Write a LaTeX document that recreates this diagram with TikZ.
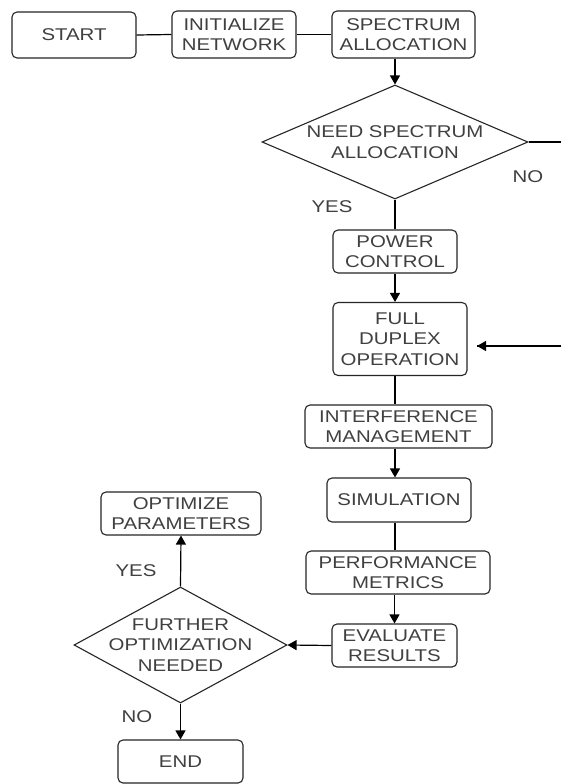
\documentclass[tikz,border=0pt]{standalone}
\usepackage{fontspec}
\setmainfont{Liberation Sans}[FakeStretch=1.2]
\usetikzlibrary{shapes.geometric,arrows.meta}
\begin{document}
\begin{tikzpicture}[x=1pt,y=-1pt,
  tfont/.style={font=\fontsize{17}{20.5}\selectfont, text=black!75},
  box/.style={draw=black!85, line width=1.1pt, rounded corners=5pt, align=center, inner sep=0pt, tfont},
  dia/.style={draw=black!85, line width=1.1pt, shape=diamond, inner sep=0pt, aspect=2},
  txt/.style={align=center, inner sep=0pt, tfont},
  con/.style={line width=1.2pt, draw=black},
  arr/.style={con, -{Triangle[length=9pt,width=10pt]}}]
\useasboundingbox (0,0) rectangle (560,784);
\fill[white] (0,0) rectangle (560,784);
% top row
\node[box, minimum width=124pt, minimum height=46pt] (start) at (74,35) {START};
\node[box, minimum width=124pt, minimum height=47pt] (init) at (234,34.5) {INITIALIZE\\NETWORK};
\node[box, minimum width=143pt, minimum height=47pt] (spec) at (403.5,34.5) {SPECTRUM\\ALLOCATION};
% decision 1
\node[dia, minimum width=266pt, minimum height=114pt] (dec1) at (395,142) {};
\node[txt] (dec1t) at (395,142) {NEED SPECTRUM\\ALLOCATION};
\node[txt] (yes1) at (332,207) {YES};
\node[txt] (no1) at (528,177) {NO};
% main column
\node[box, minimum width=124pt, minimum height=43pt] (power) at (395,251.5) {POWER\\CONTROL};
\node[box, minimum width=134pt, minimum height=73pt] (full) at (400,339) {FULL\\DUPLEX\\OPERATION};
\node[box, minimum width=187pt, minimum height=43pt] (inter) at (398.5,426.5) {INTERFERENCE\\MANAGEMENT};
\node[box, minimum width=144pt, minimum height=44pt] (sim) at (399,500) {SIMULATION};
\node[box, minimum width=184pt, minimum height=43pt] (perf) at (398,572.5) {PERFORMANCE\\METRICS};
\node[box, minimum width=125pt, minimum height=43pt] (eval) at (394.5,645.5) {EVALUATE\\RESULTS};
% decision 2
\node[dia, minimum width=213pt, minimum height=116pt] (dec2) at (180.5,645) {};
\node[txt] (dec2t) at (180.5,645) {FURTHER\\OPTIMIZATION\\NEEDED};
\node[box, minimum width=160pt, minimum height=43pt] (opt) at (181,513.5) {OPTIMIZE\\PARAMETERS};
\node[box, minimum width=125pt, minimum height=43pt] (end) at (180.5,761.5) {END};
\node[txt] (yes2) at (136,571) {YES};
\node[txt] (no2) at (137,717) {NO};
% helper coordinates (the right-hand return line runs just outside the frame)
\coordinate (rt) at (566,0);
\coordinate (fdin) at (477,346);
% connectors
\draw[con] (start.east) -- (init.west);
\draw[con] (init.east) -- (spec.west);
\draw[arr] (spec.south -| dec1.north) -- (dec1.north);
\draw[con] (dec1.south) -- (dec1.south |- power.north);
\draw[con] (dec1.east) -- (dec1.east -| rt) |- (fdin);
\draw[arr] (rt |- fdin) -- (fdin);
\draw[arr] (power.south) -- (power.south |- full.north);
\draw[con] (full.south -| power.south) -- (power.south |- inter.north);
\draw[arr] (inter.south -| power.south) -- (power.south |- sim.north);
\draw[con] (sim.south -| power.south) -- (power.south |- perf.north);
\draw[arr] (perf.south -| eval.north) -- (eval.north);
\draw[arr] (eval.west) -- (dec2.east);
\draw[arr] (dec2.north) -- (opt.south);
\draw[arr] (dec2.south) -- (end.north);
\end{tikzpicture}
\end{document}
